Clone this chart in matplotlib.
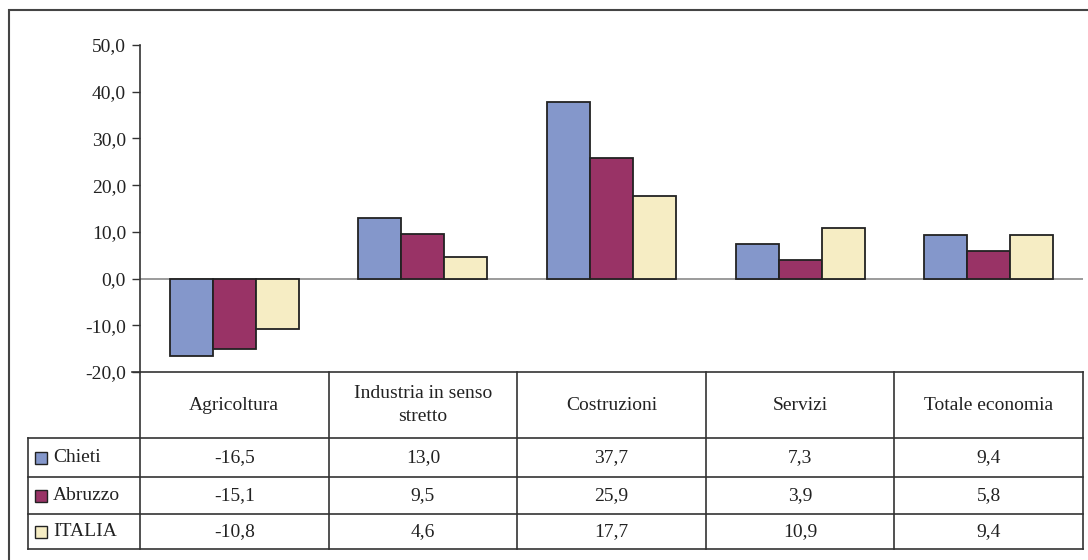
import matplotlib
matplotlib.use("Agg")
import matplotlib.pyplot as plt
from matplotlib.lines import Line2D
from matplotlib.patches import Rectangle
from matplotlib.ticker import FuncFormatter

categories = ["Agricoltura", "Industria in senso\nstretto", "Costruzioni", "Servizi", "Totale economia"]
series_names = ["Chieti", "Abruzzo", "ITALIA"]
chieti = [-16.5, 13.0, 37.7, 7.3, 9.4]
abruzzo = [-15.1, 9.5, 25.9, 3.9, 5.8]
italia = [-10.8, 4.6, 17.7, 10.9, 9.4]
colors = ["#8497CB", "#993366", "#F6EDC4"]

plt.rcParams['font.family'] = ['Liberation Serif', 'DejaVu Serif']

W, H = 1088, 560
fig = plt.figure(figsize=(W / 100, H / 100), dpi=100)

def fx(px):
    return px / W

def fy(py):
    return 1 - py / H

# plot area in pixels
x0, x1 = 140, 1083
ytop, ybot = 45, 372
ax = fig.add_axes([fx(x0), fy(ybot), fx(x1) - fx(x0), fy(ytop) - fy(ybot)])

n = len(categories)
bw = 0.228
values = [chieti, abruzzo, italia]
for k, vals in enumerate(values):
    xs = [i + (k - 1) * bw for i in range(n)]
    ax.bar(xs, vals, width=bw, color=colors[k], edgecolor="#222222", linewidth=1.3, zorder=3)

ax.axhline(0, color="#8a8a8a", linewidth=1.2, zorder=2)
ax.set_xlim(-0.5, n - 0.5)
ax.set_ylim(-20, 50)
ax.set_yticks(range(-20, 51, 10))
ax.yaxis.set_major_formatter(FuncFormatter(lambda v, p: f"{v:.1f}".replace(".", ",")))
ax.set_xticks([])
for s in ["top", "right", "bottom"]:
    ax.spines[s].set_visible(False)
ax.spines["left"].set_color("#333333")
ax.spines["left"].set_linewidth(1.2)
ax.tick_params(axis="y", direction="out", length=6, width=1.0, color="#333333",
               labelsize=14, pad=4, labelcolor="#222222")

# data table below the plot
lc = "#333333"
lw = 1.2
tleft = 28
rows_y = [372, 438, 477, 514, 549]
col_w = (x1 - x0) / n
col_x = [x0 + i * col_w for i in range(n + 1)]

def hline(y, xa, xb):
    fig.add_artist(Line2D([fx(xa), fx(xb)], [fy(y), fy(y)], color=lc, linewidth=lw))

def vline(x, ya, yb):
    fig.add_artist(Line2D([fx(x), fx(x)], [fy(ya), fy(yb)], color=lc, linewidth=lw))

hline(rows_y[0], 132, x1)
for y in rows_y[1:]:
    hline(y, tleft, x1)
for x in col_x:
    vline(x, rows_y[0], rows_y[-1])
vline(tleft, rows_y[1], rows_y[-1])

fs = 14
for i, cat in enumerate(categories):
    cx = (col_x[i] + col_x[i + 1]) / 2
    cy = (rows_y[0] + rows_y[1]) / 2
    fig.text(fx(cx), fy(cy), cat, ha="center", va="center", fontsize=fs,
             color="#222222", linespacing=1.45)

for r, (name, vals) in enumerate(zip(series_names, values)):
    cy = (rows_y[r + 1] + rows_y[r + 2]) / 2
    fig.add_artist(Rectangle((fx(35), fy(cy + 6)), fx(12), fy(0) - fy(12),
                             transform=fig.transFigure, facecolor=colors[r],
                             edgecolor="#222222", linewidth=1.0))
    fig.text(fx(53), fy(cy), name, ha="left", va="center", fontsize=fs, color="#222222")
    for i, v in enumerate(vals):
        cx = (col_x[i] + col_x[i + 1]) / 2
        fig.text(fx(cx), fy(cy), f"{v:.1f}".replace(".", ","), ha="center", va="center",
                 fontsize=fs, color="#222222")

# outer frame
fig.add_artist(Rectangle((fx(9), fy(600)), fx(1200), fy(10) - fy(600),
                         transform=fig.transFigure, facecolor="none",
                         edgecolor="#444444", linewidth=1.5))

fig.savefig("out.png", dpi=100)
